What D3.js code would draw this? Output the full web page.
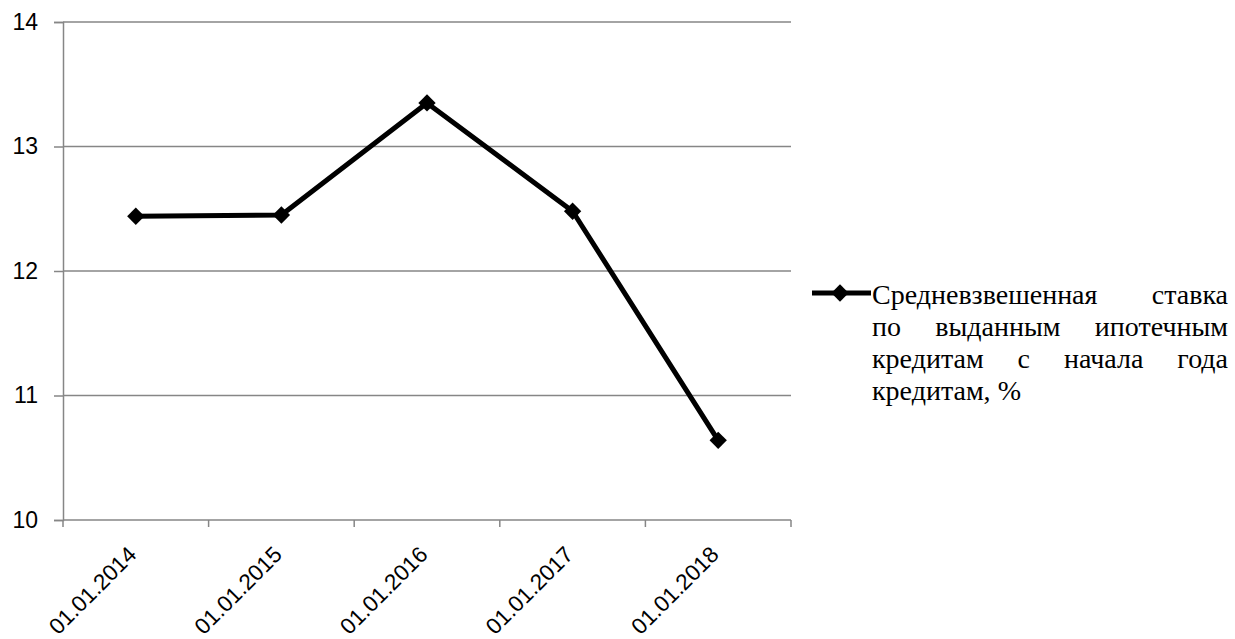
<!DOCTYPE html>
<html>
<head>
<meta charset="utf-8">
<script src="https://cdn.jsdelivr.net/npm/d3@7"></script>
<style>
  html, body { margin: 0; padding: 0; background: #fff; }
  svg { display: block; }
  .serif { font-family: "Liberation Serif", "Times New Roman", serif; }
</style>
</head>
<body>
<svg id="chart" width="1235" height="639"></svg>
<script>
// Dates on the x axis
const dates = ["01.01.2014", "01.01.2015", "01.01.2016", "01.01.2017", "01.01.2018"];
// Weighted average mortgage rate, %
const rates = [12.44, 12.45, 13.35, 12.48, 10.64];
// Y axis ticks
const yTicks = [10, 11, 12, 13, 14];
// Legend text, one entry per line
const legendLines = [
  "Средневзвешенная ставка",
  "по выданным ипотечным",
  "кредитам с начала года",
  "кредитам, %"
];

const svg = d3.select("#chart");
const plot = { left: 63, right: 791, top: 22, bottom: 520 };
const gridColor = "#868686";
const sansFont = "'Liberation Sans', Arial, sans-serif";

const x = d3.scaleBand().domain(dates).range([plot.left, plot.right]).padding(0);
const y = d3.scaleLinear().domain([10, 14]).range([plot.bottom, plot.top]);

// horizontal gridlines
svg.append("g").selectAll("line").data(yTicks.slice(1)).join("line")
  .attr("x1", plot.left).attr("x2", plot.right)
  .attr("y1", d => y(d)).attr("y2", d => y(d))
  .attr("stroke", gridColor).attr("stroke-width", 1.5);

// y axis
const yAxis = svg.append("g")
  .attr("transform", `translate(${plot.left},0)`)
  .call(d3.axisLeft(y).tickValues(yTicks).tickFormat(d3.format("d")).tickSize(9).tickPadding(16));
yAxis.select(".domain").attr("stroke", gridColor).attr("stroke-width", 1.5);
yAxis.selectAll(".tick line").attr("stroke", gridColor).attr("stroke-width", 1.5);
yAxis.selectAll(".tick text")
  .style("font-family", sansFont)
  .style("font-size", "23px").attr("fill", "#000");

// x axis: ticks at category boundaries
const bounds = dates.map(d => x(d)).concat([plot.right]);
const xAxisG = svg.append("g");
xAxisG.append("line")
  .attr("x1", plot.left).attr("x2", plot.right)
  .attr("y1", plot.bottom).attr("y2", plot.bottom)
  .attr("stroke", gridColor).attr("stroke-width", 1.5);
xAxisG.selectAll("line.tk").data(bounds).join("line").attr("class", "tk")
  .attr("x1", d => d).attr("x2", d => d)
  .attr("y1", plot.bottom).attr("y2", plot.bottom + 7)
  .attr("stroke", gridColor).attr("stroke-width", 1.5);

// rotated date labels
xAxisG.selectAll("text").data(dates).join("text")
  .attr("transform", d => `translate(${x(d) + x.bandwidth() / 2 + 2},${plot.bottom + 36}) rotate(-45)`)
  .attr("text-anchor", "end")
  .style("font-family", sansFont)
  .style("font-size", "22.5px")
  .attr("fill", "#000")
  .text(d => d);

// series line
const cx = (d, i) => x(dates[i]) + x.bandwidth() / 2;
const line = d3.line().x((d, i) => cx(d, i)).y(d => y(d));
svg.append("path").datum(rates)
  .attr("d", line)
  .attr("fill", "none").attr("stroke", "#000").attr("stroke-width", 5)
  .attr("stroke-linejoin", "round");

// diamond markers
const marker = d3.symbol().type(d3.symbolSquare).size(150);
svg.append("g").selectAll("path").data(rates).join("path")
  .attr("transform", (d, i) => `translate(${cx(d, i)},${y(d)}) rotate(45)`)
  .attr("d", marker)
  .attr("fill", "#000");

// legend
const legX = 872, legRight = 1228, legY = 293, lineH = 32;
const leg = svg.append("g");
leg.append("line")
  .attr("x1", 812).attr("x2", 871).attr("y1", legY).attr("y2", legY)
  .attr("stroke", "#000").attr("stroke-width", 5);
leg.append("path")
  .attr("transform", `translate(840,${legY}) rotate(45)`)
  .attr("d", marker)
  .attr("fill", "#000");

// justified paragraph: all but the last line are spread to the right edge
legendLines.forEach((ln, li) => {
  const words = ln.split(" ");
  const baseY = legY + 10.5 + li * lineH;
  const nodes = words.map(w => leg.append("text")
    .attr("class", "serif")
    .attr("y", baseY)
    .style("font-size", "28px")
    .attr("fill", "#000")
    .text(w));
  const widths = nodes.map(n => n.node().getComputedTextLength());
  const justify = li < legendLines.length - 1 && words.length > 1;
  const total = d3.sum(widths);
  const gap = justify ? (legRight - legX - total) / (words.length - 1) : 7;
  let cur = legX;
  nodes.forEach((n, i) => { n.attr("x", cur); cur += widths[i] + gap; });
});
</script>
</body>
</html>
